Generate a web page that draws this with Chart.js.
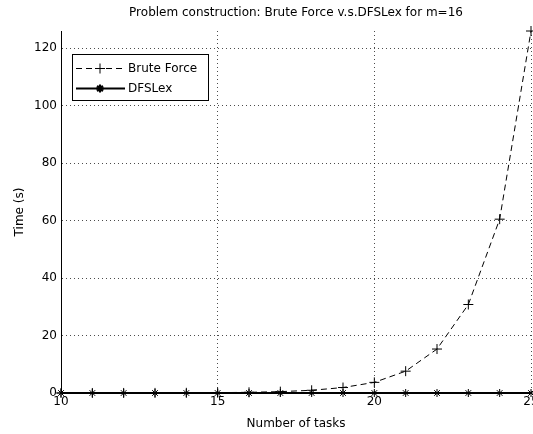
<!DOCTYPE html>
<html>
<head>
<meta charset="utf-8">
<script src="https://cdn.jsdelivr.net/npm/chart.js@4"></script>
<style>
  body { margin: 0; background: #fff; overflow: hidden; }
</style>
</head>
<body>
<canvas id="chart" width="533" height="434"></canvas>
<script>
// data
const tasks = [10, 11, 12, 13, 14, 15, 16, 17, 18, 19, 20, 21, 22, 23, 24, 25];
const bruteForce = [0.005, 0.01, 0.02, 0.03, 0.06, 0.12, 0.24, 0.47, 0.95, 1.9, 3.7, 7.6, 15.3, 30.8, 60.5, 126];
const dfsLex = [0, 0, 0, 0, 0, 0, 0, 0, 0, 0, 0, 0, 0, 0, 0, 0];
const xTicks = [10, 15, 20, 25];
const yTicks = [0, 20, 40, 60, 80, 100, 120];
const titleText = 'Problem construction: Brute Force v.s.DFSLex for m=16';

const fontFam = '"DejaVu Sans", sans-serif';
const gridDots = { color: 'rgba(0,0,0,0.7)', lineWidth: 1 };

// title centred over the axes, and legend box inside the axes (matlab style)
const axesDecor = {
  id: 'axesDecor',
  afterDraw(chart) {
    const ctx = chart.ctx;
    const area = chart.chartArea;
    ctx.save();
    ctx.fillStyle = '#000';
    ctx.font = '12px ' + fontFam;
    ctx.textAlign = 'center';
    ctx.textBaseline = 'alphabetic';
    ctx.fillText(titleText, (area.left + area.right) / 2, 16);

    const x0 = 72, y0 = 54, w = 136, h = 46;
    ctx.fillStyle = '#fff';
    ctx.fillRect(x0, y0, w, h);
    ctx.strokeStyle = '#000';
    ctx.lineWidth = 1;
    ctx.strokeRect(x0 + 0.5, y0 + 0.5, w, h);
    chart.data.datasets.forEach((ds, i) => {
      const y = y0 + 14.5 + i * 20;
      ctx.beginPath();
      ctx.setLineDash(ds.borderDash || []);
      ctx.lineWidth = ds.borderWidth;
      ctx.strokeStyle = '#000';
      ctx.moveTo(76, y);
      ctx.lineTo(125, y);
      ctx.stroke();
      ctx.setLineDash([]);
      Chart.helpers.drawPoint(ctx, {
        pointStyle: ds.pointStyle, radius: ds.pointRadius, borderWidth: 1, rotation: 0
      }, 100, y);
      ctx.fillStyle = '#000';
      ctx.font = '12px ' + fontFam;
      ctx.textAlign = 'left';
      ctx.textBaseline = 'middle';
      ctx.fillText(ds.label, 128, y);
    });
    ctx.restore();
  }
};

new Chart(document.getElementById('chart'), {
  type: 'line',
  data: {
    datasets: [
      {
        label: 'Brute Force',
        data: tasks.map((t, i) => ({ x: t, y: bruteForce[i] })),
        borderColor: '#000', backgroundColor: '#000',
        borderWidth: 1, borderDash: [6, 4],
        pointStyle: 'cross', pointRadius: 5, pointBorderWidth: 1,
        tension: 0, clip: false
      },
      {
        label: 'DFSLex',
        data: tasks.map((t, i) => ({ x: t, y: dfsLex[i] })),
        borderColor: '#000', backgroundColor: '#000',
        borderWidth: 2,
        pointStyle: 'star', pointRadius: 4, pointBorderWidth: 1,
        tension: 0, clip: false
      }
    ]
  },
  options: {
    responsive: false,
    animation: false,
    layout: { autoPadding: false, padding: { left: 0, right: 2, top: 31, bottom: 0 } },
    plugins: {
      legend: { display: false },
      tooltip: { enabled: false },
      title: { display: false }
    },
    scales: {
      x: {
        type: 'linear', min: 10, max: 25,
        afterBuildTicks: s => { s.ticks = xTicks.map(v => ({ value: v })); },
        afterFit: s => { s.height = 41; s.paddingLeft = 0; s.paddingRight = 0; },
        ticks: { color: '#000', padding: 2, maxRotation: 0, font: { family: fontFam, size: 12 } },
        grid: { ...gridDots, drawTicks: false },
        border: { display: true, color: '#000', width: 1, dash: [1, 3] },
        title: {
          display: true, text: 'Number of tasks', color: '#000',
          font: { family: fontFam, size: 12 }, padding: { top: 0, bottom: 2.8 }
        }
      },
      y: {
        min: 0, max: 126,
        afterBuildTicks: s => { s.ticks = yTicks.map(v => ({ value: v })); },
        afterFit: s => { s.width = 61; s.paddingTop = 0; s.paddingBottom = 0; },
        ticks: { color: '#000', padding: 4, font: { family: fontFam, size: 12 } },
        grid: { ...gridDots, drawTicks: false },
        border: { display: true, color: '#000', width: 1, dash: [1, 3] },
        title: {
          display: true, text: 'Time (s)', color: '#000',
          font: { family: fontFam, size: 12 }, padding: { top: 12.3, bottom: 0 }
        }
      }
    }
  },
  plugins: [axesDecor]
});
</script>
</body>
</html>
